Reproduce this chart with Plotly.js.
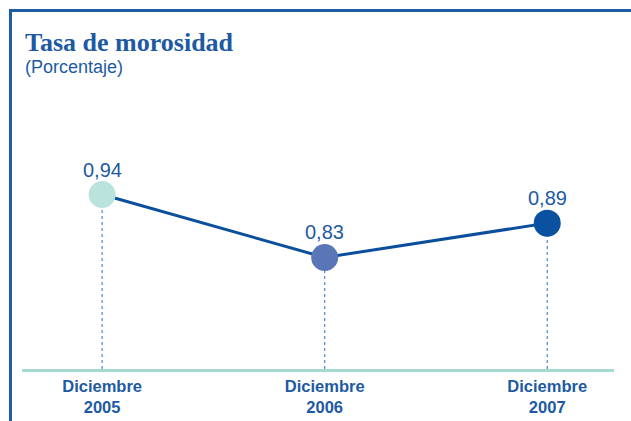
<!DOCTYPE html>
<html>
<head>
<meta charset="utf-8">
<script src="https://cdn.plot.ly/plotly-3.0.1.min.js"></script>
<style>
  html, body { margin: 0; padding: 0; background: #fff; }
  #wrap { position: relative; width: 631px; height: 421px; overflow: hidden; }
  #chart { position: absolute; left: 0; top: 0; width: 631px; height: 421px; }
  #frame { position: absolute; left: 9px; top: 9px; right: -5px; bottom: -5px;
           border-top: 3px solid #1f5ca6; border-left: 3px solid #1f5ca6; pointer-events: none; }
</style>
</head>
<body>
<div id="wrap">
  <div id="chart"></div>
  <div id="frame"></div>
</div>
<script>
const periods = ['Diciembre<br>2005', 'Diciembre<br>2006', 'Diciembre<br>2007'];
const rates = [0.94, 0.83, 0.89];
const pointColors = ['#b9e3dc', '#5a76b7', '#0a51a0'];

const yMin = 0.635;
const blue = '#1d5aa3';

// dotted drop lines from each point down to the axis
const dropX = periods.flatMap(p => [p, p, null]);
const dropY = rates.flatMap(v => [yMin, v, null]);

const traces = [
    {
        x: dropX,
        y: dropY,
        type: 'scatter',
        mode: 'lines',
        line: { color: '#4d86c6', width: 1.2, dash: 'dot' },
        hoverinfo: 'skip',
        showlegend: false
    },
    {
        x: periods,
        y: rates,
        type: 'scatter',
        mode: 'lines+markers',
        line: { color: '#0b4f9c', width: 3 },
        marker: { size: 27, color: pointColors, line: { width: 0 } },
        cliponaxis: false,
        showlegend: false
    }
];

// value labels above each point
const valueLabels = periods.map((p, i) => ({
    x: p,
    y: rates[i],
    xref: 'x', yref: 'y',
    text: rates[i].toFixed(2).replace('.', ','),
    showarrow: false,
    yanchor: 'bottom',
    yshift: 12,
    font: { family: 'Liberation Sans, Arial, sans-serif', size: 20, color: blue }
}));

const layout = {
    width: 631,
    height: 421,
    margin: { l: 22, r: 17, t: 103, b: 52 },
    paper_bgcolor: 'white',
    plot_bgcolor: 'white',
    showlegend: false,
    xaxis: {
        type: 'category',
        range: [-0.36, 2.3],
        showgrid: false,
        zeroline: false,
        showline: true,
        linecolor: '#a3dad2',
        linewidth: 3,
        ticks: '',
        tickfont: { family: 'Liberation Sans, Arial, sans-serif', size: 16.5, color: blue, weight: 'bold' },
        fixedrange: true
    },
    yaxis: {
        range: [yMin, 1.1],
        visible: false,
        fixedrange: true
    },
    annotations: [
        {
            text: '<b>Tasa de morosidad</b>',
            xref: 'paper', yref: 'paper',
            x: 0.001, y: 1.228,
            xanchor: 'left', yanchor: 'middle',
            showarrow: false,
            font: { family: 'Liberation Serif, Times New Roman, serif', size: 26, color: blue }
        },
        {
            text: '(Porcentaje)',
            xref: 'paper', yref: 'paper',
            x: 0.001, y: 1.135,
            xanchor: 'left', yanchor: 'middle',
            showarrow: false,
            font: { family: 'Liberation Sans, Arial, sans-serif', size: 18, color: blue }
        }
    ].concat(valueLabels)
};

Plotly.newPlot('chart', traces, layout, { displayModeBar: false, staticPlot: true });
</script>
</body>
</html>
